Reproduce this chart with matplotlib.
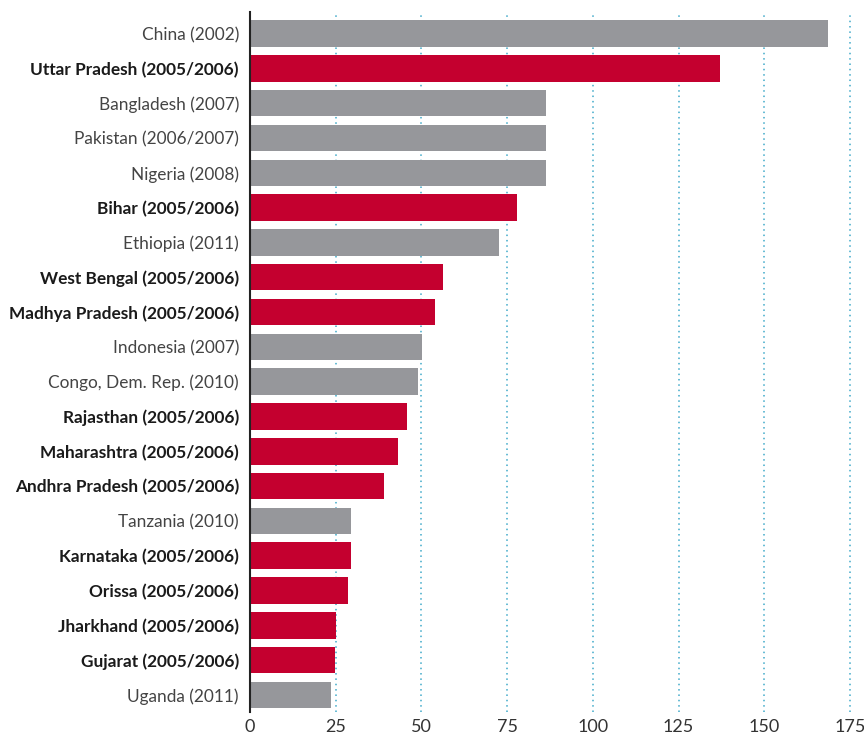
import matplotlib
matplotlib.use('Agg')
import matplotlib.pyplot as plt

labels = ['China (2002)', 'Uttar Pradesh (2005/2006)', 'Bangladesh (2007)', 'Pakistan (2006/2007)',
          'Nigeria (2008)', 'Bihar (2005/2006)', 'Ethiopia (2011)', 'West Bengal (2005/2006)',
          'Madhya Pradesh (2005/2006)', 'Indonesia (2007)', 'Congo, Dem. Rep. (2010)',
          'Rajasthan (2005/2006)', 'Maharashtra (2005/2006)', 'Andhra Pradesh (2005/2006)',
          'Tanzania (2010)', 'Karnataka (2005/2006)', 'Orissa (2005/2006)',
          'Jharkhand (2005/2006)', 'Gujarat (2005/2006)', 'Uganda (2011)']
values = [168.6, 137.0, 86.2, 86.2, 86.2, 77.9, 72.5, 56.3, 54.0, 50.2, 49.0,
          45.8, 43.2, 39.1, 29.5, 29.5, 28.6, 25.1, 24.8, 23.6]
india = [False, True, False, False, False, True, False, True, True, False, False,
         True, True, True, False, True, True, True, True, False]
xticks = [0, 25, 50, 75, 100, 125, 150, 175]

plt.rcParams['font.family'] = ['Lato', 'DejaVu Sans']

fig = plt.figure(figsize=(8.64, 7.38), dpi=100)
ax = fig.add_axes([250 / 864, 26 / 738, 604 / 864, 700 / 738])

colors = ['#c4002f' if s else '#96979b' for s in india]
y = list(range(len(labels)))
ax.barh(y, values, height=0.76, color=colors, zorder=3)

ax.set_ylim(len(labels) - 0.51, -0.62)
ax.set_xlim(0, 604 / (600 / 175))
ax.set_xticks(xticks)
ax.set_xticklabels([str(t) for t in xticks], fontsize=13, color='#333333')
ax.set_yticks(y)
ax.set_yticklabels(labels, fontsize=12.4, color='#444444')
for lab, s in zip(ax.get_yticklabels(), india):
    if s:
        lab.set_fontweight('bold')
        lab.set_color('#1a1a1a')

ax.tick_params(axis='both', length=0)
ax.tick_params(axis='y', pad=8)
ax.tick_params(axis='x', pad=5)
for sp in ['top', 'right', 'bottom']:
    ax.spines[sp].set_visible(False)
ax.spines['left'].set_color('#222222')
ax.spines['left'].set_linewidth(1.5)
ax.spines['left'].set_zorder(4)

for t in xticks[1:]:
    ax.axvline(t, color='#3fa9c9', linestyle=(0, (1, 2.5)), linewidth=1.1, zorder=1)

fig.savefig('out.png', dpi=100)
